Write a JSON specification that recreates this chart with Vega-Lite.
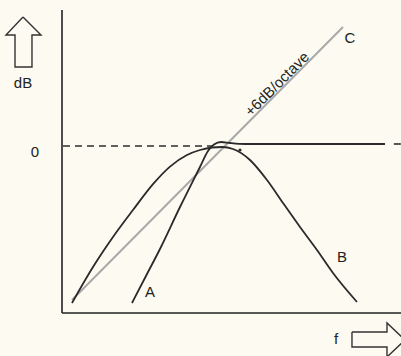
{
  "$schema": "https://vega.github.io/schema/vega-lite/v6.json",
  "width": 401,
  "height": 356,
  "autosize": {"type": "fit", "contains": "padding"},
  "padding": 0,
  "background": "#fcfaf1",
  "config": {"view": {"stroke": null}, "font": "Liberation Sans"},
  "datasets": {
    "lines": [
      {"s": "A", "i": 1, "f": 2.095, "dB": -28.2},
      {"s": "A", "i": 2, "f": 2.513, "dB": -23.35},
      {"s": "A", "i": 3, "f": 2.932, "dB": -18.5},
      {"s": "A", "i": 4, "f": 3.531, "dB": -10.96},
      {"s": "A", "i": 5, "f": 4.129, "dB": -3.77},
      {"s": "A", "i": 6, "f": 4.369, "dB": -0.9},
      {"s": "A", "i": 7, "f": 4.548, "dB": 0.27},
      {"s": "A", "i": 8, "f": 4.758, "dB": 0.72},
      {"s": "A", "i": 9, "f": 5.027, "dB": 0.54},
      {"s": "A", "i": 10, "f": 5.476, "dB": 0.36},
      {"s": "A", "i": 11, "f": 9.665, "dB": 0.36},
      {"s": "B", "i": 1, "f": 0.299, "dB": -28.2},
      {"s": "B", "i": 2, "f": 0.928, "dB": -21.74},
      {"s": "B", "i": 3, "f": 1.526, "dB": -16.35},
      {"s": "B", "i": 4, "f": 2.124, "dB": -11.5},
      {"s": "B", "i": 5, "f": 2.723, "dB": -6.85},
      {"s": "B", "i": 6, "f": 3.232, "dB": -3.7},
      {"s": "B", "i": 7, "f": 3.74, "dB": -1.62},
      {"s": "B", "i": 8, "f": 4.129, "dB": -0.72},
      {"s": "B", "i": 9, "f": 4.488, "dB": -0.27},
      {"s": "B", "i": 10, "f": 4.788, "dB": -0.18},
      {"s": "B", "i": 11, "f": 5.117, "dB": -0.54},
      {"s": "B", "i": 12, "f": 5.625, "dB": -2.51},
      {"s": "B", "i": 13, "f": 6.134, "dB": -6.11},
      {"s": "B", "i": 14, "f": 6.613, "dB": -10.24},
      {"s": "B", "i": 15, "f": 7.122, "dB": -14.55},
      {"s": "B", "i": 16, "f": 7.63, "dB": -18.68},
      {"s": "B", "i": 17, "f": 8.109, "dB": -22.81},
      {"s": "B", "i": 18, "f": 8.827, "dB": -28.02}
    ],
    "slope": [
      {"s": "C", "i": 1, "f": 0.299, "dB": -27.66},
      {"s": "C", "i": 2, "f": 8.408, "dB": 21.38}
    ],
    "dashed": [
      {"s": "d1", "i": 1, "f": 0.03, "dB": 0.0},
      {"s": "d1", "i": 2, "f": 4.488, "dB": 0.0},
      {"s": "d2", "i": 1, "f": 9.93, "dB": 0.36},
      {"s": "d2", "i": 2, "f": 10.2, "dB": 0.36}
    ],
    "axes": [
      {"s": "y", "i": 1, "f": 0, "dB": 24.43},
      {"s": "y", "i": 2, "f": 0, "dB": -30},
      {"s": "x", "i": 1, "f": 0, "dB": -30},
      {"s": "x", "i": 2, "f": 10.2, "dB": -30}
    ],
    "arrows": [
      {"s": "up", "i": 1, "f": -1.167, "dB": 23.17},
      {"s": "up", "i": 2, "f": -0.628, "dB": 19.94},
      {"s": "up", "i": 3, "f": -0.898, "dB": 19.94},
      {"s": "up", "i": 4, "f": -0.898, "dB": 14.19},
      {"s": "up", "i": 5, "f": -1.406, "dB": 14.19},
      {"s": "up", "i": 6, "f": -1.406, "dB": 19.94},
      {"s": "up", "i": 7, "f": -1.676, "dB": 19.94},
      {"s": "up", "i": 8, "f": -1.167, "dB": 23.17},
      {"s": "right", "i": 1, "f": 8.677, "dB": -33.41},
      {"s": "right", "i": 2, "f": 9.725, "dB": -33.41},
      {"s": "right", "i": 3, "f": 9.725, "dB": -31.79},
      {"s": "right", "i": 4, "f": 10.263, "dB": -34.85},
      {"s": "right", "i": 5, "f": 9.725, "dB": -37.9},
      {"s": "right", "i": 6, "f": 9.725, "dB": -36.11},
      {"s": "right", "i": 7, "f": 8.677, "dB": -36.11},
      {"s": "right", "i": 8, "f": 8.677, "dB": -33.41}
    ],
    "dots": [
      {"f": 5.326, "dB": -0.72}
    ],
    "labels": [
      {"t": "dB", "f": -1.167, "dB": 11.32},
      {"t": "0", "f": -0.808, "dB": -1.08},
      {"t": "A", "f": 2.633, "dB": -26.23},
      {"t": "B", "f": 8.378, "dB": -19.94},
      {"t": "C", "f": 8.618, "dB": 19.4},
      {"t": "f", "f": 8.199, "dB": -34.67}
    ],
    "rotated": [
      {"t": "+6dB/octave", "f": 6.433, "dB": 11.14}
    ]
  },
  "encoding": {
    "x": {"field": "f", "type": "quantitative", "axis": null, "scale": {"domain": [-1.855, 10.144], "nice": false, "zero": false}},
    "y": {"field": "dB", "type": "quantitative", "axis": null, "scale": {"domain": [-37.725, 26.228], "nice": false, "zero": false}}
  },
  "layer": [
    {
      "data": {"name": "slope"},
      "mark": {"type": "line", "color": "#a9a9a9", "strokeWidth": 2},
      "encoding": {"detail": {"field": "s"}, "order": {"field": "i", "type": "quantitative"}}
    },
    {
      "data": {"name": "dashed"},
      "mark": {"type": "line", "color": "#2e2e2e", "strokeWidth": 1.6, "strokeDash": [7, 5], "clip": true},
      "encoding": {"detail": {"field": "s"}, "order": {"field": "i", "type": "quantitative"}}
    },
    {
      "data": {"name": "lines"},
      "mark": {"type": "line", "color": "#2a2a2a", "strokeWidth": 1.8, "interpolate": "monotone"},
      "encoding": {"detail": {"field": "s"}, "order": {"field": "i", "type": "quantitative"}}
    },
    {
      "data": {"name": "axes"},
      "mark": {"type": "line", "color": "#222222", "strokeWidth": 1.6, "clip": true},
      "encoding": {"detail": {"field": "s"}, "order": {"field": "i", "type": "quantitative"}}
    },
    {
      "data": {"name": "arrows"},
      "mark": {"type": "line", "color": "#333333", "strokeWidth": 1.4, "clip": true},
      "encoding": {"detail": {"field": "s"}, "order": {"field": "i", "type": "quantitative"}}
    },
    {
      "data": {"name": "dots"},
      "mark": {"type": "point", "filled": true, "color": "#2a2a2a", "size": 10, "opacity": 1}
    },
    {
      "data": {"name": "labels"},
      "mark": {"type": "text", "color": "#222222", "align": "center", "baseline": "middle", "fontSize": 15},
      "encoding": {"text": {"field": "t"}}
    },
    {
      "data": {"name": "rotated"},
      "mark": {"type": "text", "color": "#222222", "align": "center", "baseline": "middle", "fontSize": 15, "angle": -45},
      "encoding": {"text": {"field": "t"}}
    }
  ]
}
